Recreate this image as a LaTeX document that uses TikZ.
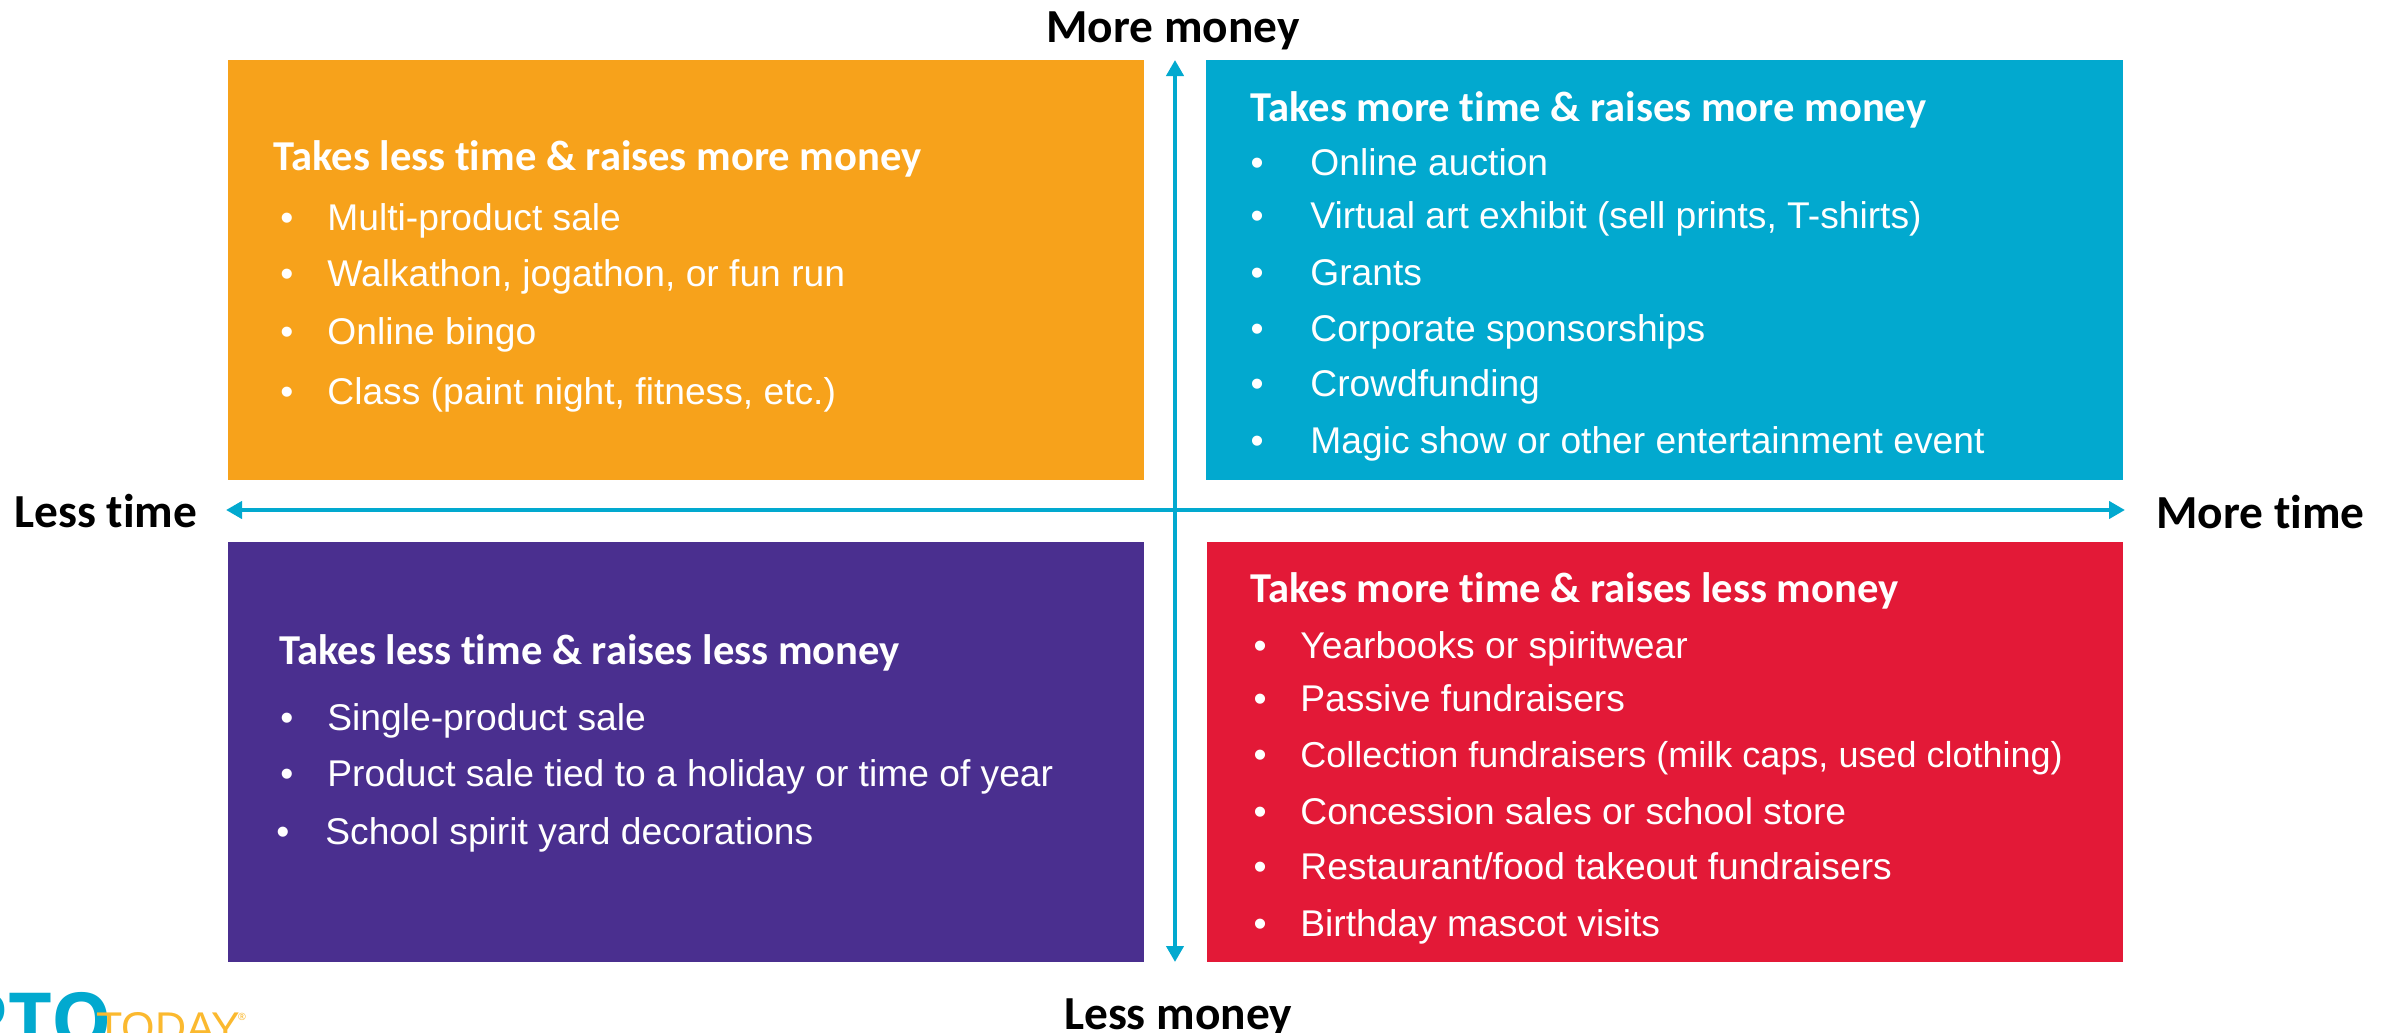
\documentclass[tikz,border=0pt]{standalone}
\usepackage{fontspec}
\setmainfont{Liberation Sans}
\newfontfamily\headfont[RawFeature=-liga]{Carlito}
\newfontfamily\logofont{Open Sans}
\usetikzlibrary{arrows.meta}
\definecolor{orangeq}{HTML}{F7A21B}
\definecolor{blueq}{HTML}{02A9CF}
\definecolor{purpleq}{HTML}{4A2F8F}
\definecolor{redq}{HTML}{E31937}
\definecolor{logoyellow}{HTML}{FBB92F}
\tikzset{
  quad/.style={draw=none,inner sep=0pt,anchor=north west},
  title/.style={text=white,inner sep=0pt,anchor=mid west,font=\headfont\bfseries\fontsize{21.3}{24}\selectfont},
  entry/.style={text=white,inner sep=0pt,anchor=mid west,font=\fontsize{18.6}{22}\selectfont},
  dot/.style={text=white,inner sep=0pt,anchor=mid,font=\fontsize{18.6}{22}\selectfont},
  axislabel/.style={text=black,inner sep=0pt,anchor=mid,font=\headfont\bfseries\fontsize{23.7}{26}\selectfont},
  axis/.style={draw=blueq,line width=2.4pt,{Triangle[length=8pt,width=8.5pt]}-{Triangle[length=8pt,width=8.5pt]}}
}
\newcommand{\listline}[6][]{%
  \node[dot] (#2d) at (#3,#5) {•};
  \node[entry,#1] (#2t) at (#4,#5) {#6};
}
\begin{document}
\begin{tikzpicture}[x=0.5pt,y=-0.5pt]
\useasboundingbox (0,0) rectangle (2394,1033);
\fill[white] (0,0) rectangle (2394,1033);
% quadrants
\node[quad,fill=orangeq,minimum width=458pt,minimum height=210pt] (ql) at (228,60) {};
\node[quad,fill=blueq,minimum width=458.5pt,minimum height=210pt] (qr) at (1206,60) {};
\node[quad,fill=purpleq,minimum width=458pt,minimum height=210.25pt] (pl) at (228,541.5) {};
\node[quad,fill=redq,minimum width=458pt,minimum height=210.25pt] (rr) at (1207,541.5) {};
% axes
\coordinate (top) at (1175,60);
\coordinate (bottom) at (1175,962);
\coordinate (left) at (226,510);
\coordinate (right) at (2125,510);
\draw[axis] (bottom) -- (top);
\draw[axis] (left) -- (right);
% axis labels
\node[axislabel] (mm) at (1173,37) {More money};
\node[axislabel] (lm) at (1178,1024) {Less money};
\node[axislabel,anchor=mid west] (lt) at (14,522) {Less time};
\node[axislabel,anchor=mid west] (mt) at (2156,523) {More time};
% orange
\node[title] (ot) at (273,165) {Takes less time \& raises more money};
\listline{oa}{287}{327}{225}{Multi-product sale}
\listline{ob}{287}{327}{281}{Walkathon, jogathon, or fun run}
\listline{oc}{287}{327}{339}{Online bingo}
\listline{od}{287}{327}{399}{Class (paint night, fitness, etc.)}
% blue
\node[title] (bt) at (1250,116) {Takes more time \& raises more money};
\listline{ba}{1257}{1310}{170}{Online auction}
\listline{bb}{1257}{1310}{223}{Virtual art exhibit (sell prints, T-shirts)}
\listline{bc}{1257}{1310}{280}{Grants}
\listline{bd}{1257}{1310}{336}{Corporate sponsorships}
\listline{be}{1257}{1310}{391}{Crowdfunding}
\listline{bf}{1257}{1310}{448}{Magic show or other entertainment event}
% purple
\node[title] (pt) at (279,659) {Takes less time \& raises less money};
\listline{pa}{287}{327}{725}{Single-product sale}
\listline{pb}{287}{327}{781}{Product sale tied to a holiday or time of year}
\listline{pc}{283}{325}{839}{School spirit yard decorations}
% red
\node[title] (rt) at (1250,597) {Takes more time \& raises less money};
\listline{ra}{1260}{1300}{653}{Yearbooks or spiritwear}
\listline{rb}{1260}{1300}{706}{Passive fundraisers}
\listline[font=\fontsize{18}{22}\selectfont]{rc}{1260}{1300}{762}{Collection fundraisers (milk caps, used clothing)}
\listline{rd}{1260}{1300}{819}{Concession sales or school store}
\listline{re}{1260}{1300}{874}{Restaurant/food takeout fundraisers}
\listline{rf}{1260}{1300}{931}{Birthday mascot visits}
% logo
\begin{scope}
\clip (0,0) rectangle (2394,1033);
\node[inner sep=0pt,anchor=base east,text=blueq,font=\logofont\bfseries\fontsize{38}{40}\selectfont] (pto) at (112,1047) {PTO};
\node[inner sep=0pt,anchor=base west,text=logoyellow,font=\fontsize{21.5}{24}\selectfont] (today) at (96,1042) {TODAY};
\node[inner sep=0pt,anchor=mid,text=logoyellow,font=\logofont\fontsize{5}{6}\selectfont] (reg) at (242,1015) {®};
\end{scope}
\end{tikzpicture}
\end{document}
